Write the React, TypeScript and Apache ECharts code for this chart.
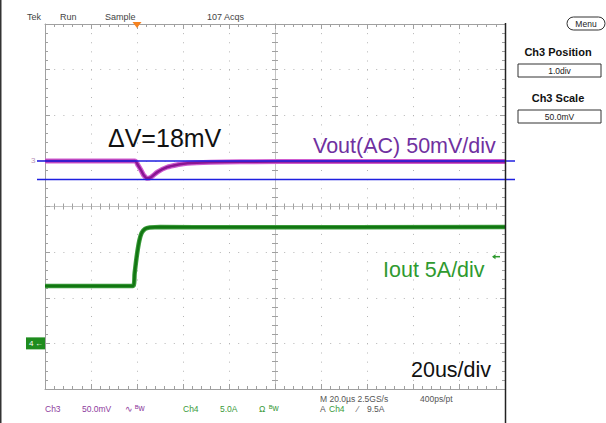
import React, { useEffect, useRef } from 'react';
import * as echarts from 'echarts';

// Time axis in microseconds (20 us/div, trigger at 0), vertical axis in divisions
const X_MIN = -40;
const X_MAX = 160;
const X_STEP = 20;
const Y_MIN = -4;
const Y_MAX = 4;

// Ch3 Vout (AC) trace, in divisions (50 mV/div)
const voutTime = [-40, -1, 0.5, 1.7, 3, 4.3, 6, 9, 13, 18, 22, 32, 45, 80, 160];
const voutDiv = [1.0, 1.0, 0.9, 0.8, 0.68, 0.62, 0.64, 0.76, 0.86, 0.92, 0.95, 0.97, 0.98, 0.985, 0.985];

// Ch4 Iout trace, in divisions (5 A/div)
const ioutTime = [-40, -1.7, -1.0, 0, 1.0, 2.0, 3.5, 5.5, 10, 40, 160];
const ioutDiv = [-1.74, -1.74, -1.45, -1.05, -0.75, -0.58, -0.49, -0.46, -0.45, -0.455, -0.45];

// Cursor lines (divisions)
const cursorDiv = [1.0, 0.59];

// Channel ground markers and trigger level (divisions)
const ch3Ground = 1.0;
const ch4Ground = -3.0;
const triggerLevelDiv = -1.1;
const triggerTime = 0;

const topLabels = ['Tek', 'Run', 'Sample', '107 Acqs'];

const GRID_GREY = '#b4b4b4';
const TICK_GREY = '#a0a0a0';

function dotted(step: number) {
  return [1, step - 1];
}

export default function App() {
  const ref = useRef<HTMLDivElement>(null);
  useEffect(() => {
    if (!ref.current) return;
    const chart = echarts.init(ref.current, null, { renderer: 'svg' });

    const edgeX = (position: 'top' | 'bottom', split: boolean) => ({
      type: 'value',
      gridIndex: 0,
      min: X_MIN,
      max: X_MAX,
      interval: X_STEP,
      position,
      axisLine: { show: true, onZero: false, lineStyle: { color: TICK_GREY, width: 1 } },
      axisTick: { show: true, inside: true, length: 5, lineStyle: { color: TICK_GREY } },
      minorTick: { show: true, splitNumber: 5, length: 3, lineStyle: { color: TICK_GREY } },
      axisLabel: { show: false },
      splitLine: { show: split, lineStyle: { color: GRID_GREY, type: dotted(9.125), width: 1 } },
      minorSplitLine: { show: false },
    });
    const centerX = (inside: boolean) => ({
      type: 'value',
      gridIndex: 0,
      min: -100,
      max: 100,
      interval: 20,
      position: 'bottom',
      axisLine: { show: true, onZero: true, onZeroAxisIndex: 0, lineStyle: { color: '#c4c4c4', width: 1 } },
      axisTick: { show: true, inside, length: 3, lineStyle: { color: TICK_GREY } },
      minorTick: { show: true, splitNumber: 5, length: 3, lineStyle: { color: TICK_GREY } },
      axisLabel: { show: false },
      splitLine: { show: false },
    });
    const edgeY = (position: 'left' | 'right', split: boolean) => ({
      type: 'value',
      gridIndex: 0,
      min: Y_MIN,
      max: Y_MAX,
      interval: 1,
      position,
      axisLine: { show: true, onZero: false, lineStyle: { color: TICK_GREY, width: 1 } },
      axisTick: { show: true, inside: true, length: 5, lineStyle: { color: TICK_GREY } },
      minorTick: { show: true, splitNumber: 5, length: 3, lineStyle: { color: TICK_GREY } },
      axisLabel: { show: false },
      splitLine: { show: split, lineStyle: { color: GRID_GREY, type: dotted(9.2), width: 1 } },
    });
    const centerY = (inside: boolean) => ({
      type: 'value',
      gridIndex: 0,
      min: Y_MIN,
      max: Y_MAX,
      interval: 1,
      position: 'left',
      axisLine: { show: true, onZero: true, onZeroAxisIndex: 2, lineStyle: { color: '#c4c4c4', width: 1 } },
      axisTick: { show: true, inside, length: 3, lineStyle: { color: TICK_GREY } },
      minorTick: { show: true, splitNumber: 5, length: 3, lineStyle: { color: TICK_GREY } },
      axisLabel: { show: false },
      splitLine: { show: false },
    });

    const vout = voutTime.map((t, i) => [t, voutDiv[i]]);
    const iout = ioutTime.map((t, i) => [t, ioutDiv[i]]);

    const option: any = {
      animation: false,
      backgroundColor: '#ffffff',
      grid: [
        { left: 45, right: 101, top: 24, bottom: 34 },
        { left: 37, right: 91, top: 24, bottom: 34 },
      ],
      xAxis: [
        edgeX('bottom', true),
        edgeX('top', false),
        centerX(true),
        centerX(false),
        { type: 'value', gridIndex: 1, min: 0, max: 1, show: false },
      ],
      yAxis: [
        edgeY('left', true),
        edgeY('right', false),
        centerY(true),
        centerY(false),
        { type: 'value', gridIndex: 1, min: Y_MIN, max: Y_MAX, show: false },
      ],
      series: [
        {
          type: 'line', xAxisIndex: 0, yAxisIndex: 0, data: vout, symbol: 'none', smooth: 0.3,
          lineStyle: { color: '#cf5bcf', width: 5 }, z: 3,
        },
        {
          type: 'line', xAxisIndex: 0, yAxisIndex: 0, data: vout, symbol: 'none', smooth: 0.3,
          lineStyle: { color: '#8a1692', width: 2.5 }, z: 4,
        },
        {
          type: 'line', xAxisIndex: 0, yAxisIndex: 0, data: iout, symbol: 'none', smooth: 0.3,
          lineStyle: { color: '#3b9b3b', width: 4.5 }, z: 3,
        },
        {
          type: 'line', xAxisIndex: 0, yAxisIndex: 0, data: iout, symbol: 'none', smooth: 0.3,
          lineStyle: { color: '#127612', width: 2.5 }, z: 4,
        },
        ...cursorDiv.map((v) => ({
          type: 'line', xAxisIndex: 4, yAxisIndex: 4, data: [[0, v], [1, v]], symbol: 'none',
          lineStyle: { color: '#1f1fe0', width: 1.5 }, z: 6,
        })),
      ],
    };
    chart.setOption(option);

    const px = (t: number, v: number) => chart.convertToPixel({ seriesIndex: 0 }, [t, v]) as number[];
    const [lx, y3] = px(X_MIN, ch3Ground);
    const [, y4] = px(X_MIN, ch4Ground);
    const [tx, ty] = px(triggerTime, Y_MAX);
    const [rx, yt] = px(X_MAX, triggerLevelDiv);

    const small = (text: string, x: number, y: number, fill = '#555', size = 8.5, extra: any = {}) => ({
      type: 'text',
      z: 20,
      style: {
        text, x, y, fill,
        font: `${size}px "Liberation Sans", Arial, sans-serif`,
        textAlign: 'left', align: 'left', textVerticalAlign: 'middle', verticalAlign: 'middle',
        ...extra,
      },
    });
    const big = (text: string, x: number, y: number, fill: string, size: number) => ({
      type: 'text',
      z: 20,
      style: {
        text, x, y, fill,
        font: `${size}px "Liberation Sans", Arial, sans-serif`,
        textAlign: 'left', align: 'left', textVerticalAlign: 'middle', verticalAlign: 'middle',
      },
    });
    const topX = [27, 60, 105, 207];

    const graphic: any[] = [
      // screen borders
      { type: 'rect', z: 20, shape: { x: 0, y: 0, width: 1.5, height: 423 }, style: { fill: '#333' } },
      { type: 'line', z: 20, shape: { x1: 505.5, y1: 23, x2: 505.5, y2: 423 }, style: { stroke: '#222', lineWidth: 1.5 } },
      // top status line
      ...topLabels.map((s, i) => small(s, topX[i], 17, '#444', 9)),
      // right menu panel
      { type: 'rect', z: 20, shape: { x: 567, y: 17, width: 38, height: 13, r: 6.5 }, style: { fill: '#fff', stroke: '#333', lineWidth: 1 } },
      small('Menu', 586, 24, '#222', 8.5, { textAlign: 'center', align: 'center' }),
      small('Ch3 Position', 558, 52, '#111', 11, { font: 'bold 11px "Liberation Sans", Arial, sans-serif', textAlign: 'center', align: 'center' }),
      { type: 'rect', z: 20, shape: { x: 518, y: 64, width: 83, height: 13 }, style: { fill: '#fff', stroke: '#333', lineWidth: 1 } },
      small('1.0div', 559.5, 70.5, '#222', 8.5, { textAlign: 'center', align: 'center' }),
      small('Ch3 Scale', 558, 98, '#111', 11, { font: 'bold 11px "Liberation Sans", Arial, sans-serif', textAlign: 'center', align: 'center' }),
      { type: 'rect', z: 20, shape: { x: 518, y: 110, width: 83, height: 13 }, style: { fill: '#fff', stroke: '#333', lineWidth: 1 } },
      small('50.0mV', 559.5, 116.5, '#222', 8.5, { textAlign: 'center', align: 'center' }),
      // bottom status lines
      small('Ch3', 45, 409, '#8e3c9e'),
      small('50.0mV', 82, 409, '#8e3c9e'),
      small('∿', 125, 409, '#8e3c9e'),
      small('ᴮw', 135, 408, '#8e3c9e'),
      small('Ch4', 183, 409, '#3a9a3a'),
      small('5.0A', 220, 409, '#3a9a3a'),
      small('Ω', 259, 409, '#3a9a3a'),
      small('ᴮw', 269, 408, '#3a9a3a'),
      small('M 20.0µs 2.5GS/s', 320, 399, '#555'),
      small('400ps/pt', 420, 399, '#555'),
      small('A', 320, 409, '#555'),
      small('Ch4', 329, 409, '#3a9a3a'),
      small('⁄', 357, 409, '#555'),
      small('9.5A', 367, 409, '#555'),
      // annotations
      big('ΔV=18mV', 108, 138, '#111', 25),
      big('Vout(AC) 50mV/div', 313, 146, '#7030a0', 21.5),
      big('Iout 5A/div', 383, 270, '#2f9a2f', 21.5),
      big('20us/div', 411, 370, '#111', 21.5),
      // channel 3 marker
      small('3', lx - 14, y3, '#b58fb5', 8),
      { type: 'line', z: 5, shape: { x1: lx - 8, y1: y3, x2: lx, y2: y3 }, style: { stroke: '#c9a6c9', lineWidth: 1 } },
      // channel 4 marker
      { type: 'rect', z: 20, shape: { x: lx - 19, y: y4 - 6, width: 19, height: 12 }, style: { fill: '#1e8c1e' } },
      small('4', lx - 16, y4, '#ffffff', 8),
      small('←', lx - 10, y4, '#ffffff', 8),
      // trigger position
      { type: 'polygon', z: 20, shape: { points: [[tx - 4.5, ty - 2], [tx + 4.5, ty - 2], [tx, ty + 4]] }, style: { fill: '#f58220' } },
      // trigger level
      { type: 'line', z: 20, shape: { x1: rx - 12, y1: yt, x2: rx - 5, y2: yt }, style: { stroke: '#2f9a2f', lineWidth: 1.5 } },
      { type: 'polygon', z: 20, shape: { points: [[rx - 13, yt], [rx - 9.5, yt - 2.5], [rx - 9.5, yt + 2.5]] }, style: { fill: '#2f9a2f' } },
    ];
    chart.setOption({ graphic });

    return () => chart.dispose();
  }, []);

  return (
    <div
      ref={ref}
      style={{ position: 'fixed', left: 0, top: 0, width: 606, height: 423, background: '#fff' }}
    />
  );
}
